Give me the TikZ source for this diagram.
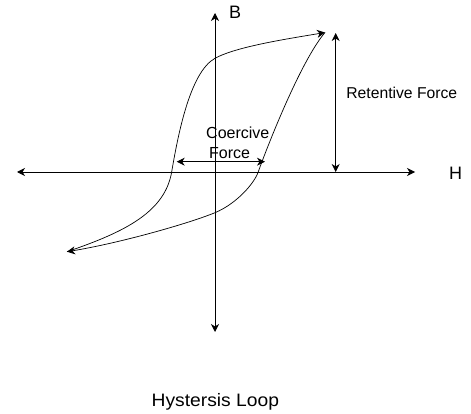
\documentclass[tikz,border=0pt]{standalone}
\usepackage{fontspec}
\setmainfont{Liberation Sans}
\usetikzlibrary{arrows.meta}
\begin{document}
\begin{tikzpicture}[x=1pt,y=-1pt,
  tip/.style={-{Stealth[length=8pt,width=8pt,inset=2.5pt]}},
  dtip/.style={{Stealth[length=8pt,width=8pt,inset=2.5pt]}-{Stealth[length=8pt,width=8pt,inset=2.5pt]}},
  lbl/.style={inner sep=0pt,anchor=base west},
  every path/.style={line width=0.8pt}]
\useasboundingbox (0,0) rectangle (471,414);
% axes
\coordinate (hl) at (17,172);
\coordinate (hr) at (415,172);
\coordinate (vt) at (215,13);
\coordinate (vb) at (215,332);
\draw[dtip] (hl) -- (hr);
\draw[dtip] (vb) -- (vt);
% labels
\node[lbl,font=\fontsize{18}{18}\selectfont] (B) at (228.6,18.3) {B};
\node[lbl,font=\fontsize{18}{18}\selectfont] (H) at (448.6,180) {H};
\node[lbl,font=\fontsize{15.7}{15.7}\selectfont] (ret) at (346,98.3) {Retentive Force};
\node[lbl,font=\fontsize{16}{16}\selectfont] (coe1) at (205.8,138.3) {Coercive};
\node[lbl,font=\fontsize{16}{16}\selectfont] (coe2) at (208.7,158.3) {Force};
\node[lbl,font=\fontsize{18}{18}\selectfont] (title) at (151.3,406) {\scalebox{1.07}[1]{Hystersis Loop}};
% loop tips
\coordinate (top) at (325,32.5);
\coordinate (bot) at (67,251.7);
\coordinate (lx) at (171.7,171.7);
\coordinate (ly) at (215,58.3);
\coordinate (rx) at (258.3,171.7);
\coordinate (ry) at (215,212.7);
% retentive arrow
\coordinate (r1) at (335.7,33);
\coordinate (r2) at (335.7,172);
\draw[dtip] (r1) -- (r2);
% coercive arrow
\coordinate (c1) at (176.7,161.7);
\coordinate (c2) at (265,161.7);
\draw[dtip] (c1) -- (c2);
% loop
\draw[tip,line width=0.7pt] (bot) .. controls (125,232) and (165,212) .. (lx)
  .. controls (178,135) and (190,72) .. (ly)
  .. controls (237,46.3) and (290,38.5) .. (top);
\draw[tip,line width=0.7pt] (top) .. controls (300,62) and (266,150) .. (rx)
  .. controls (255,182) and (238,203) .. (ry)
  .. controls (188,223.7) and (120,243) .. (bot);
\end{tikzpicture}
\end{document}
